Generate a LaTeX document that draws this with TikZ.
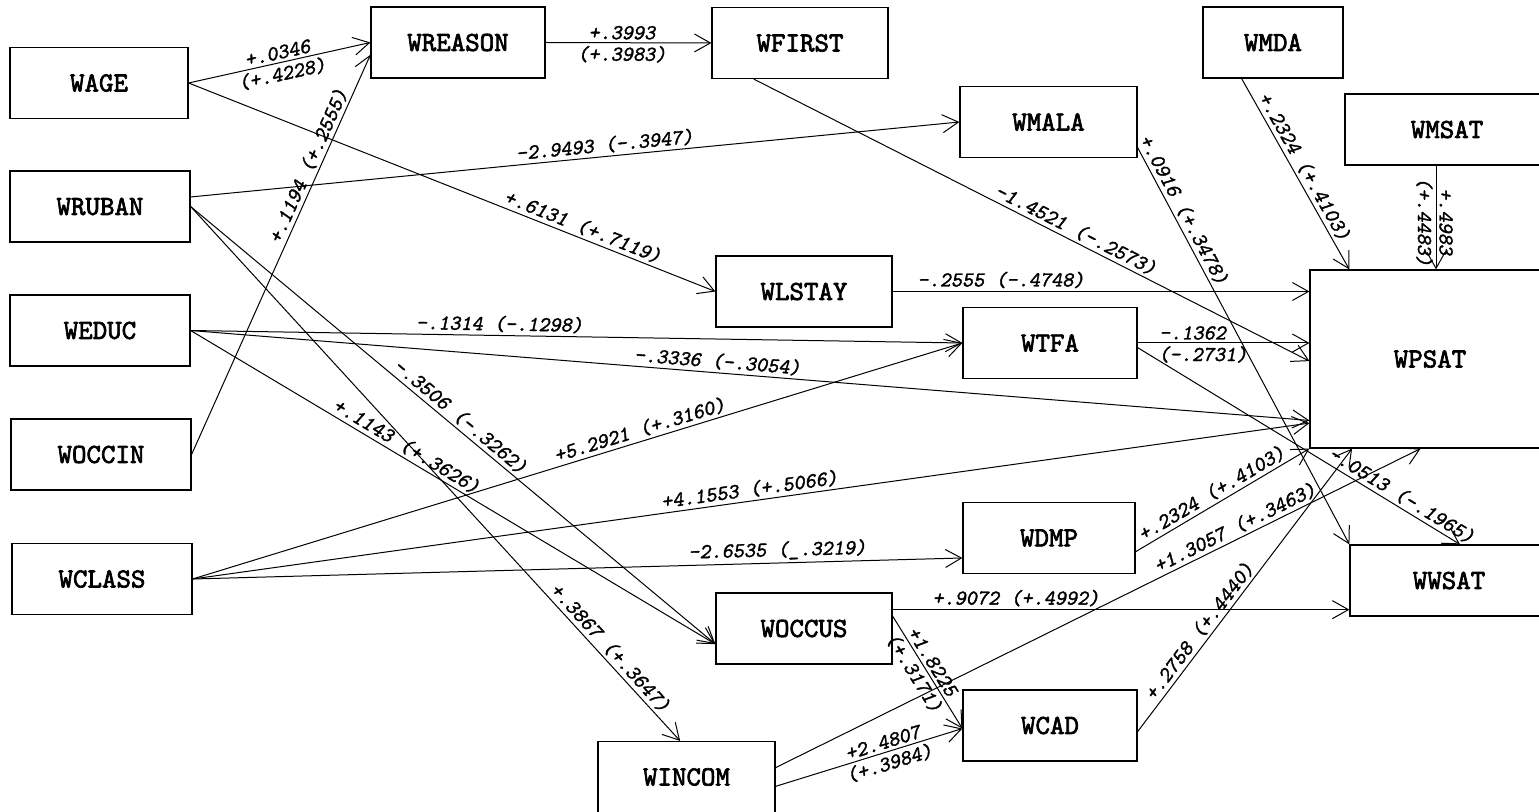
\documentclass[tikz,border=0pt]{standalone}
\usepackage{fontspec}
\newfontfamily\pamono{lmmono10-regular}[Extension=.otf, FakeBold=2.5]
\newfontfamily\pamonoslant{lmmono10-regular}[Extension=.otf, FakeBold=1.6, FakeSlant=0.2]
\usepackage{tikz}
\usetikzlibrary{arrows.meta, positioning, calc}
\tikzset{
  pa-box/.style={
    rectangle, draw=black, line width=0.6pt,
    minimum height=35.5pt, inner sep=0pt, align=center,
    font=\pamono\fontsize{13.8}{15}\selectfont
  },
  pa-path/.style={-{Straight Barb[length=8pt,width=9pt]}, line width=0.5pt, draw=black},
  pa-coef/.style={sloped, inner sep=1.4pt, font=\pamonoslant\fontsize{10.6}{12}\selectfont},
}
\begin{document}
\begin{tikzpicture}[x=0.5pt, y=-0.5pt]
  \useasboundingbox (0,0) rectangle (1539,812);

  \node[pa-box, minimum width=89pt] (wage) at (99,83) {WAGE};
  \node[pa-box, minimum width=90pt] (wruban) at (100,206.5) {WRUBAN};
  \node[pa-box, minimum width=90pt] (weduc) at (100,330.5) {WEDUC};
  \node[pa-box, minimum width=90pt] (woccin) at (101,454.5) {WOCCIN};
  \node[pa-box, minimum width=90pt] (wclass) at (102,579) {WCLASS};

  \node[pa-box, minimum width=87pt] (wreason) at (458,42.5) {WREASON};
  \node[pa-box, minimum width=88pt] (wfirst) at (800,43) {WFIRST};
  \node[pa-box, minimum width=88pt] (wlstay) at (804,291.5) {WLSTAY};
  \node[pa-box, minimum width=88pt] (woccus) at (804,628.5) {WOCCUS};
  \node[pa-box, minimum width=88.5pt] (wincom) at (686.5,777) {WINCOM};

  \node[pa-box, minimum width=88.5pt] (wmala) at (1048.5,122) {WMALA};
  \node[pa-box, minimum width=87pt] (wtfa) at (1050,343) {WTFA};
  \node[pa-box, minimum width=86pt] (wdmp) at (1049,538) {WDMP};
  \node[pa-box, minimum width=87pt] (wcad) at (1050,725.5) {WCAD};

  \node[pa-box, minimum width=70pt] (wmda) at (1273,42.5) {WMDA};
  \node[pa-box, minimum width=102pt] (wmsat) at (1447,129.5) {WMSAT};
  \node[pa-box, minimum width=120pt, minimum height=89pt] (wpsat) at (1430,359) {WPSAT};
  \node[pa-box, minimum width=99pt] (wwsat) at (1449,580.5) {WWSAT};

  \draw[pa-path] (wage.east) -- (wreason.west)
    node[pa-coef, pos=0.5, above] {+.0346} node[pa-coef, pos=0.5, below] {(+.4228)};
  \draw[pa-path] (woccin.east) -- (wreason.188) node[pa-coef, pos=0.71, above] {+.1194 (+.2555)};
  \draw[pa-path] (wage.east) -- (wlstay.west) node[pa-coef, pos=0.74, above] {+.6131 (+.7119)};
  \draw[pa-path] (wruban.6) -- (wmala.west) node[pa-coef, pos=0.54, above] {-2.9493 (-.3947)};
  \draw[pa-path] (wruban.east) -- (woccus.190) node[pa-coef, pos=0.5, above] {-.3506 (-.3262)};
  \draw[pa-path] (wruban.east) -- (wincom.100) node[pa-coef, pos=0.84, above] {+.3867 (+.3647)};
  \draw[pa-path] (weduc.east) -- (wtfa.west) node[pa-coef, pos=0.4, above] {-.1314 (-.1298)};
  \draw[pa-path] (weduc.east) -- (wpsat.207) node[pa-coef, pos=0.47, above] {-.3336 (-.3054)};
  \draw[pa-path] (weduc.east) -- (woccus.190) node[pa-coef, pos=0.4, above] {+.1143 (+.3626)};
  \draw[pa-path] (wclass.east) -- (wtfa.west) node[pa-coef, pos=0.585, above] {+5.2921 (+.3160)};
  \draw[pa-path] (wclass.east) -- (wpsat.208) node[pa-coef, pos=0.5, above] {+4.1553 (+.5066)};
  \draw[pa-path] (wclass.east) -- (wdmp.193) node[pa-coef, pos=0.76, above] {-2.6535 (\_.3219)};

  \draw[pa-path] (wreason.east) -- (wfirst.west)
    node[pa-coef, pos=0.46, above] {+.3993} node[pa-coef, pos=0.46, below] {(+.3983)};
  \draw[pa-path] (wfirst.218) -- (wpsat.181) node[pa-coef, pos=0.57, above] {-1.4521 (-.2573)};
  \draw[pa-path] (wlstay.east) -- (wlstay.east -| wpsat.west) node[pa-coef, pos=0.26, above] {-.2555 (-.4748)};
  \draw[pa-path] (wmala.-16) -- (wwsat.north west) node[pa-coef, pos=0.17, above] {+.0916 (+.3478)};
  \draw[pa-path] (wmda.229) -- (wpsat.132) node[pa-coef, pos=0.49, above] {+.2324 (+.4103)};
  \coordinate (msatfoot) at ([xshift=-5.5pt]wmsat.south);
  \draw[pa-path] (msatfoot) -- (msatfoot |- wpsat.north)
    node[pa-coef, pos=0.54, above] {+.4983} node[pa-coef, pos=0.54, below] {(+.4483)};
  \draw[pa-path] (wtfa.east) -- (wtfa.east -| wpsat.west)
    node[pa-coef, pos=0.32, above] {-.1362} node[pa-coef, pos=0.38, below] {(-.2731)};
  \draw[pa-path] (wtfa.-3) -- (wwsat.73) node[pa-coef, pos=0.8, above] {-.0513 (-.1965)};
  \draw[pa-path] (wdmp.-9) -- (wpsat.south west) node[pa-coef, pos=0.47, above] {+.2324 (+.4103)};
  \draw[pa-path] (wincom.6) -- (wpsat.264) node[pa-coef, pos=0.72, above] {+1.3057 (+.3463)};
  \draw[pa-path] (woccus.12) -- (woccus.12 -| wwsat.west) node[pa-coef, pos=0.27, above] {+.9072 (+.4992)};
  \draw[pa-path] (woccus.8) -- (wcad.182)
    node[pa-coef, pos=0.45, above] {+1.8225} node[pa-coef, pos=0.45, below] {(+.3171)};
  \draw[pa-path] (wincom.-6) -- (wcad.182)
    node[pa-coef, pos=0.59, above] {+2.4807} node[pa-coef, pos=0.59, below] {(+.3984)};
  \draw[pa-path] (wcad.-4) -- (wpsat.229) node[pa-coef, pos=0.33, above] {+.2758 (+.4440)};

\end{tikzpicture}
\end{document}
